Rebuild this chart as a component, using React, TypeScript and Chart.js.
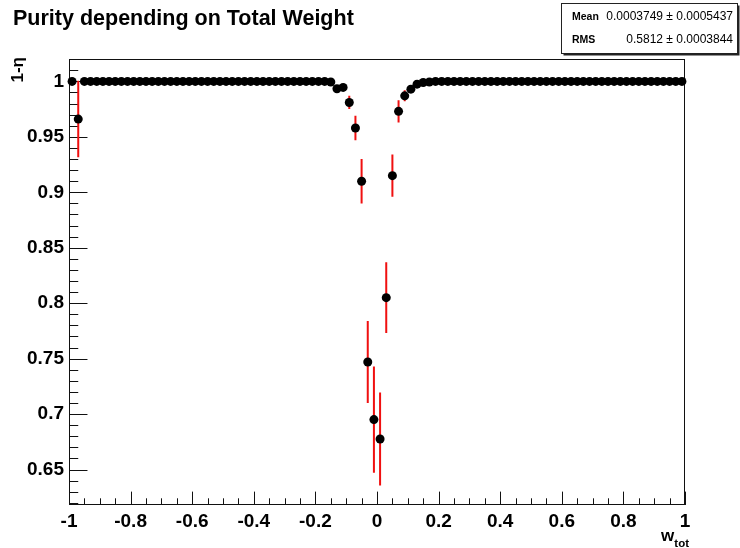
import React, { useEffect, useRef } from 'react';
import { Chart, registerables } from 'chart.js';

Chart.register(...registerables);

// ---- data ----
const chartTitle = 'Purity depending on Total Weight';
const yAxisTitle = '1-\u03b7';
const xAxisTitleMain = 'w';
const xAxisTitleSub = 'tot';

const binCenters = [
  -0.99, -0.97, -0.95, -0.93, -0.91, -0.89, -0.87, -0.85, -0.83, -0.81,
  -0.79, -0.77, -0.75, -0.73, -0.71, -0.69, -0.67, -0.65, -0.63, -0.61,
  -0.59, -0.57, -0.55, -0.53, -0.51, -0.49, -0.47, -0.45, -0.43, -0.41,
  -0.39, -0.37, -0.35, -0.33, -0.31, -0.29, -0.27, -0.25, -0.23, -0.21,
  -0.19, -0.17, -0.15, -0.13, -0.11, -0.09, -0.07, -0.05, -0.03, -0.01,
  0.01, 0.03, 0.05, 0.07, 0.09, 0.11, 0.13, 0.15, 0.17, 0.19,
  0.21, 0.23, 0.25, 0.27, 0.29, 0.31, 0.33, 0.35, 0.37, 0.39,
  0.41, 0.43, 0.45, 0.47, 0.49, 0.51, 0.53, 0.55, 0.57, 0.59,
  0.61, 0.63, 0.65, 0.67, 0.69, 0.71, 0.73, 0.75, 0.77, 0.79,
  0.81, 0.83, 0.85, 0.87, 0.89, 0.91, 0.93, 0.95, 0.97, 0.99,
];

const purity = [
  1, 0.966, 1, 1, 1, 1, 1, 1, 1, 1,
  1, 1, 1, 1, 1, 1, 1, 1, 1, 1,
  1, 1, 1, 1, 1, 1, 1, 1, 1, 1,
  1, 1, 1, 1, 1, 1, 1, 1, 1, 1,
  1, 1, 0.9995, 0.9934, 0.9946, 0.981, 0.958, 0.91, 0.747, 0.695,
  0.6775, 0.805, 0.915, 0.973, 0.987, 0.993, 0.9975, 0.999, 0.9995, 1,
  1, 1, 1, 1, 1, 1, 1, 1, 1, 1,
  1, 1, 1, 1, 1, 1, 1, 1, 1, 1,
  1, 1, 1, 1, 1, 1, 1, 1, 1, 1,
  1, 1, 1, 1, 1, 1, 1, 1, 1, 1,
];

const purityErr = [
  0, 0.0345, 0.0003, 0.0003, 0.0003, 0.0003, 0.0003, 0.0003, 0.0003, 0.0003,
  0.0003, 0.0003, 0.0003, 0.0003, 0.0003, 0.0003, 0.0003, 0.0003, 0.0003, 0.0003,
  0.0003, 0.0003, 0.0003, 0.0003, 0.0003, 0.0003, 0.0003, 0.0003, 0.0003, 0.0003,
  0.0003, 0.0003, 0.0003, 0.0003, 0.0003, 0.0003, 0.0003, 0.0003, 0.0003, 0.0003,
  0.0003, 0.0004, 0.0006, 0.002, 0.002, 0.006, 0.011, 0.02, 0.037, 0.048,
  0.042, 0.032, 0.019, 0.01, 0.005, 0.003, 0.002, 0.001, 0.0006, 0.0004,
  0.0003, 0.0003, 0.0003, 0.0003, 0.0003, 0.0003, 0.0003, 0.0003, 0.0003, 0.0003,
  0.0003, 0.0003, 0.0003, 0.0003, 0.0003, 0.0003, 0.0003, 0.0003, 0.0003, 0.0003,
  0.0003, 0.0003, 0.0003, 0.0003, 0.0003, 0.0003, 0.0003, 0.0003, 0.0003, 0.0003,
  0.0003, 0.0003, 0.0003, 0.0003, 0.0003, 0.0003, 0.0003, 0.0003, 0.0003, 0.0003,
];

const xTickValues = [-1, -0.8, -0.6, -0.4, -0.2, 0, 0.2, 0.4, 0.6, 0.8, 1];
const yTickValues = [0.65, 0.7, 0.75, 0.8, 0.85, 0.9, 0.95, 1];

const statsLabels = ['Mean', 'RMS'];
const statsValues = ['0.0003749 \u00b1 0.0005437', '0.5812 \u00b1 0.0003844'];

const FONT = "'Liberation Sans', Arial, Helvetica, sans-serif";

const fmt = (v: number) => String(Number(v.toFixed(3)));

const rootPlugin = {
  id: 'rootDecor',
  beforeDatasetsDraw(chart: any) {
    const { ctx, chartArea: a, scales } = chart;
    const x = scales.x;
    const y = scales.y;
    ctx.save();
    // frame
    ctx.strokeStyle = '#111';
    ctx.lineWidth = 1;
    ctx.strokeRect(a.left + 0.5, a.top + 0.5, a.right - a.left - 1, a.bottom - a.top - 1);

    const h = a.bottom - a.top;
    const w = a.right - a.left;
    const xMaj = 0.03 * h;
    const yMaj = 0.03 * w;
    ctx.beginPath();
    for (let k = -20; k <= 20; k++) {
      const px = Math.round(x.getPixelForValue(k * 0.05)) + 0.5;
      const len = k % 4 === 0 ? xMaj : xMaj / 2;
      ctx.moveTo(px, a.bottom);
      ctx.lineTo(px, a.bottom - len);
    }
    for (let k = 60; k <= 103; k++) {
      const v = k / 100;
      if (v < y.min || v > y.max) continue;
      const py = Math.round(y.getPixelForValue(v)) + 0.5;
      const len = k % 5 === 0 ? yMaj : yMaj / 2;
      ctx.moveTo(a.left, py);
      ctx.lineTo(a.left + len, py);
    }
    ctx.stroke();

    // error bars
    ctx.beginPath();
    ctx.rect(a.left, a.top, w, h);
    ctx.clip();
    ctx.strokeStyle = '#f01010';
    ctx.lineWidth = 2;
    ctx.beginPath();
    for (let i = 0; i < binCenters.length; i++) {
      const e = purityErr[i];
      if (!e) continue;
      const px = x.getPixelForValue(binCenters[i]);
      ctx.moveTo(px, y.getPixelForValue(purity[i] - e));
      ctx.lineTo(px, y.getPixelForValue(purity[i] + e));
    }
    ctx.stroke();
    ctx.restore();
  },
  afterDraw(chart: any) {
    const { ctx, chartArea: a } = chart;
    ctx.save();
    ctx.fillStyle = '#000';
    // title
    ctx.font = `bold 21.5px ${FONT}`;
    ctx.textAlign = 'left';
    ctx.textBaseline = 'alphabetic';
    ctx.fillText(chartTitle, 13, 25);

    // y axis title (rotated)
    ctx.save();
    ctx.translate(23, a.top - 2);
    ctx.rotate(-Math.PI / 2);
    ctx.font = `bold 17px ${FONT}`;
    ctx.textAlign = 'right';
    ctx.textBaseline = 'alphabetic';
    ctx.fillText(yAxisTitle, 0, 0);
    ctx.restore();

    // x axis title
    ctx.font = `bold 11.5px ${FONT}`;
    ctx.textAlign = 'right';
    const subW = ctx.measureText(xAxisTitleSub).width;
    ctx.fillText(xAxisTitleSub, a.right + 4, 547);
    ctx.font = `bold 17px ${FONT}`;
    ctx.fillText(xAxisTitleMain, a.right + 4 - subW, 541);

    // stats box
    const bx = 561.5, by = 3.5, bw = 176, bh = 50;
    ctx.fillStyle = '#fff';
    ctx.fillRect(bx, by, bw, bh);
    ctx.strokeStyle = '#222';
    ctx.lineWidth = 1;
    ctx.strokeRect(bx, by, bw, bh);
    ctx.lineWidth = 2;
    ctx.beginPath();
    ctx.moveTo(bx + bw + 1, by + 2);
    ctx.lineTo(bx + bw + 1, by + bh + 1);
    ctx.lineTo(bx + 2, by + bh + 1);
    ctx.stroke();

    ctx.fillStyle = '#000';
    ctx.textBaseline = 'middle';
    const rows = [17, 40];
    for (let i = 0; i < statsLabels.length; i++) {
      ctx.font = `bold 10.5px ${FONT}`;
      ctx.textAlign = 'left';
      ctx.fillText(statsLabels[i], 572, rows[i]);
      ctx.font = `12px ${FONT}`;
      ctx.textAlign = 'right';
      ctx.fillText(statsValues[i], 733, rows[i]);
    }
    ctx.restore();
  },
};

export default function App() {
  const ref = useRef<HTMLCanvasElement | null>(null);
  useEffect(() => {
    const canvas = ref.current;
    if (!canvas) return;
    const chart = new Chart(canvas, {
      type: 'scatter',
      data: {
        datasets: [
          {
            data: binCenters.map((c, i) => ({ x: c, y: purity[i] })),
            pointRadius: 4.5,
            pointHoverRadius: 4.5,
            pointBackgroundColor: '#000',
            pointBorderColor: '#000',
            pointBorderWidth: 0,
            showLine: false,
            clip: false,
          } as any,
        ],
      },
      options: {
        responsive: false,
        maintainAspectRatio: false,
        animation: false,
        devicePixelRatio: 1,
        events: [],
        layout: { padding: { top: 59, right: 55, left: 0, bottom: 0 } },
        plugins: {
          legend: { display: false },
          tooltip: { enabled: false },
          title: { display: false },
        },
        scales: {
          x: {
            type: 'linear',
            position: 'bottom',
            min: -1,
            max: 1,
            afterFit(s: any) {
              s.height = 43;
            },
            afterBuildTicks(s: any) {
              s.ticks = xTickValues.map((v) => ({ value: v }));
            },
            ticks: {
              autoSkip: false,
              maxRotation: 0,
              padding: 5,
              color: '#000',
              font: { family: FONT, size: 19, weight: 'bold' },
              callback: (v: any) => fmt(Number(v)),
            },
            grid: { display: false, drawTicks: false },
            border: { display: false },
          },
          y: {
            type: 'linear',
            position: 'left',
            min: 0.618,
            max: 1.0202,
            afterFit(s: any) {
              s.width = 69;
            },
            afterBuildTicks(s: any) {
              s.ticks = yTickValues.map((v) => ({ value: v }));
            },
            ticks: {
              autoSkip: false,
              padding: 5,
              color: '#000',
              font: { family: FONT, size: 19, weight: 'bold' },
              callback: (v: any) => fmt(Number(v)),
            },
            grid: { display: false, drawTicks: false },
            border: { display: false },
          },
        },
      } as any,
      plugins: [rootPlugin],
    });
    return () => chart.destroy();
  }, []);

  return (
    <div style={{ position: 'absolute', left: 0, top: 0, width: 740, height: 548, background: '#fff' }}>
      <canvas ref={ref} width={740} height={548} style={{ display: 'block', width: 740, height: 548 }} />
    </div>
  );
}
